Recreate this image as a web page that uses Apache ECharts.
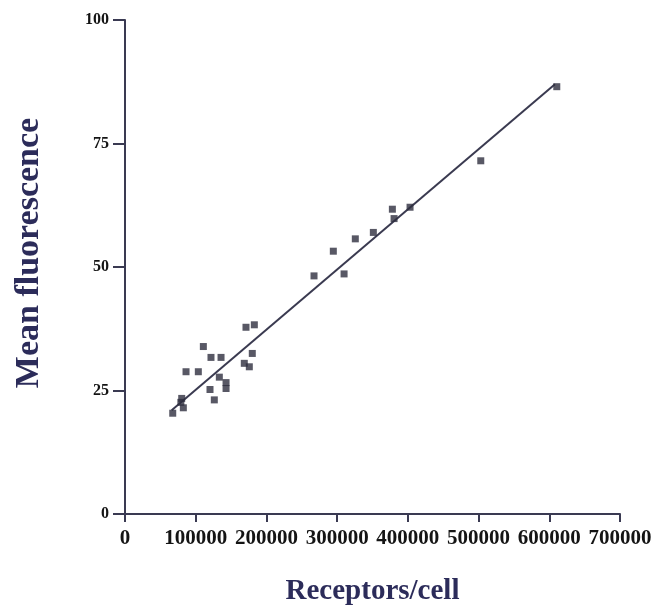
<!DOCTYPE html>
<html>
<head>
<meta charset="utf-8">
<script src="https://cdn.jsdelivr.net/npm/echarts@6/dist/echarts.min.js"></script>
<style>
  html, body { margin: 0; padding: 0; background: #ffffff; }
  #chart { width: 658px; height: 609px; }
</style>
</head>
<body>
<div id="chart"></div>
<script>
// Receptor density per cell vs. mean fluorescence intensity
const receptors = [
  67500, 80200, 79000, 82500, 86300, 103700, 110800, 121600, 135800, 133400,
  142900, 142900, 120200, 126300, 171100, 182900, 180000, 168700, 175800,
  267300, 294600, 309800, 325700, 351200, 378100, 380500, 403100, 503100, 610600
];
const fluorescence = [
  20.4, 23.4, 22.6, 21.5, 28.8, 28.8, 33.9, 31.7, 31.7, 27.7,
  26.6, 25.4, 25.2, 23.1, 37.8, 38.3, 32.5, 30.5, 29.8,
  48.2, 53.2, 48.6, 55.7, 57.0, 61.7, 59.8, 62.1, 71.5, 86.5
];

// Endpoints of the fitted linear regression line
const fitX = [66000, 608000];
const fitY = [21.0, 87.0];

const xTicks = { min: 0, max: 700000, step: 100000 };
const yTicks = { min: 0, max: 100, step: 25 };

const axisColor = '#3a3a52';
const titleColor = '#2c2c5a';
const serif = '"Liberation Serif", "DejaVu Serif", serif';

const chart = echarts.init(document.getElementById('chart'));
chart.setOption({
  backgroundColor: '#ffffff',
  animation: false,
  grid: {
    left: 125, right: 38, top: 20, bottom: 95,
    containLabel: false,
    outerBoundsMode: 'none'
  },
  xAxis: {
    type: 'value',
    min: xTicks.min, max: xTicks.max, interval: xTicks.step,
    name: 'Receptors/cell',
    nameLocation: 'middle',
    nameGap: 63,
    nameTextStyle: { fontFamily: serif, fontWeight: 'bold', fontSize: 29, color: titleColor },
    axisLine: { show: true, onZero: false, lineStyle: { color: axisColor, width: 2 } },
    axisTick: { show: true, length: 8, lineStyle: { color: axisColor, width: 2 } },
    axisLabel: {
      fontFamily: serif, fontWeight: 'bold', fontSize: 21, color: '#141414', margin: 14,
      formatter: v => String(v)
    },
    splitLine: { show: false }
  },
  yAxis: {
    type: 'value',
    min: yTicks.min, max: yTicks.max, interval: yTicks.step,
    name: 'Mean fluorescence',
    nameLocation: 'middle',
    nameGap: 79,
    nameTextStyle: {
      fontFamily: serif, fontWeight: 'bold', fontSize: 34, color: titleColor,
      padding: [0, 0, 0, 28]
    },
    axisLine: { show: true, lineStyle: { color: axisColor, width: 2 } },
    axisTick: { show: true, length: 12, lineStyle: { color: axisColor, width: 2 } },
    axisLabel: {
      fontFamily: serif, fontWeight: 'bold', fontSize: 16, color: '#141414', margin: 16,
      formatter: v => String(v)
    },
    splitLine: { show: false }
  },
  series: [
    {
      type: 'line',
      data: fitX.map((x, i) => [x, fitY[i]]),
      showSymbol: false,
      lineStyle: { color: '#3a3a50', width: 2 },
      z: 2
    },
    {
      type: 'scatter',
      data: receptors.map((x, i) => [x, fluorescence[i]]),
      symbol: 'rect',
      symbolSize: 7,
      itemStyle: { color: '#2e2e3e' },
      z: 3
    }
  ]
});
</script>
</body>
</html>
